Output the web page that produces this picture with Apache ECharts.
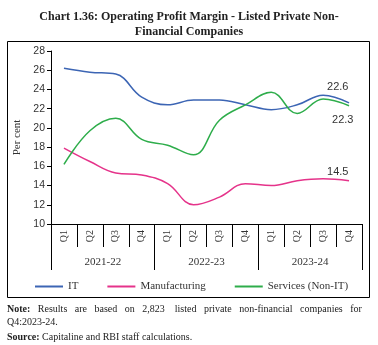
<!DOCTYPE html>
<html><head><meta charset="utf-8">
<script src="https://cdn.jsdelivr.net/npm/echarts@6/dist/echarts.min.js"></script>
<style>html,body{margin:0;padding:0;background:#fff}#c{width:378px;height:345px}</style>
</head><body><div id="c"></div>
<script>
const quarters = ['Q1','Q2','Q3','Q4','Q1','Q2','Q3','Q4','Q1','Q2','Q3','Q4'];
const years = ['2021-22','2022-23','2023-24'];
const yTicks = {min:10, max:28, interval:2};
const itData = [26.2, 25.8, 25.6, 23.2, 22.4, 22.9, 22.9, 22.4, 21.9, 22.4, 23.4, 22.6];
const mfgData = [17.9, 16.5, 15.3, 15.1, 14.2, 12.0, 12.8, 14.2, 14.0, 14.5, 14.7, 14.5];
const svcData = [16.2, 19.7, 21.0, 18.8, 18.2, 17.2, 20.8, 22.4, 23.7, 21.5, 23.0, 22.3];
const seriesNames = ['IT','Manufacturing','Services (Non-IT)'];
const colors = ['#3C65B4','#E5338A','#2EAD4B'];

const serif = '"Liberation Serif", "DejaVu Serif", serif';
const sans = '"Liberation Sans", "DejaVu Sans", sans-serif';

function endLbl(dx, dy){
  return {show:true, formatter:'{c}', offset:[dx,dy], fontFamily:sans, fontSize:11, color:'#333', distance:0};
}

const chart = echarts.init(document.getElementById('c'), null, {renderer:'canvas'});
chart.setOption({
  animation:false,
  backgroundColor:'#fff',
  title:{
    text:'Chart 1.36: Operating Profit Margin - Listed Private Non-\nFinancial Companies',
    left:'center', top:4,
    textStyle:{fontFamily:serif, fontWeight:'bold', fontSize:12, color:'#222', lineHeight:15}
  },
  graphic:[
    {type:'rect', shape:{x:7.5, y:41.5, width:362, height:256}, style:{fill:'none', stroke:'#000', lineWidth:1}, z:-1},
    {type:'text', left:7, top:304, style:{text:'{b|Note:}   Results   are   based   on   2,823    listed   private   non-financial   companies   for', rich:{b:{fontWeight:'bold', fontFamily:serif, fontSize:10, fill:'#222'}}, fontFamily:serif, fontSize:10, fill:'#222'}},
    {type:'text', left:7, top:317, style:{text:'Q4:2023-24.', fontFamily:serif, fontSize:10, fill:'#222'}},
    {type:'text', left:7, top:332, style:{text:'{b|Source:} Capitaline and RBI staff calculations.', rich:{b:{fontWeight:'bold', fontFamily:serif, fontSize:10, fill:'#222'}}, fontFamily:serif, fontSize:10, fill:'#222'}}
  ],
  legend:{
    top:276, left:30, width:345, itemGap:29, itemWidth:28, itemHeight:2, itemTextGap:4,
    icon:'rect', orient:'horizontal',
    textStyle:{fontFamily:serif, fontSize:11, color:'#333'},
    data:seriesNames
  },
  grid:{left:51, right:16, top:51, bottom:121},
  xAxis:[
    {type:'category', data:quarters, boundaryGap:true, position:'bottom',
     axisLine:{show:true, lineStyle:{color:'#000', width:1}},
     axisTick:{show:true, interval:0, length:23, lineStyle:{color:'#000'}},
     axisLabel:{interval:0, rotate:90, margin:6, fontFamily:serif, fontSize:10, color:'#333'}},
    {type:'category', data:years, boundaryGap:true, position:'bottom',
     axisLine:{show:false},
     axisTick:{show:true, interval:0, length:46, lineStyle:{color:'#000'}},
     axisLabel:{interval:0, margin:33, fontFamily:serif, fontSize:11, color:'#333'}}
  ],
  yAxis:{
    type:'value', min:yTicks.min, max:yTicks.max, interval:yTicks.interval,
    name:'Per cent', nameLocation:'middle', nameGap:26, nameRotate:90,
    nameTextStyle:{fontFamily:serif, fontSize:11, color:'#333'},
    axisLine:{show:true, lineStyle:{color:'#000'}},
    axisTick:{show:true, length:4, lineStyle:{color:'#000'}},
    splitLine:{show:false},
    axisLabel:{fontFamily:sans, fontSize:10.5, color:'#333', margin:6}
  },
  series:[
    {name:seriesNames[0], type:'line', smooth:0.4, showSymbol:false, symbol:'none', data:itData, endLabel:endLbl(-22,-16), lineStyle:{color:colors[0], width:1.5}, itemStyle:{color:colors[0]}},
    {name:seriesNames[1], type:'line', smooth:0.4, showSymbol:false, symbol:'none', data:mfgData, endLabel:endLbl(-22,-9), lineStyle:{color:colors[1], width:1.5}, itemStyle:{color:colors[1]}},
    {name:seriesNames[2], type:'line', smooth:0.4, showSymbol:false, symbol:'none', data:svcData, endLabel:endLbl(-17,14), lineStyle:{color:colors[2], width:1.5}, itemStyle:{color:colors[2]}}
  ]
});
</script></body></html>
